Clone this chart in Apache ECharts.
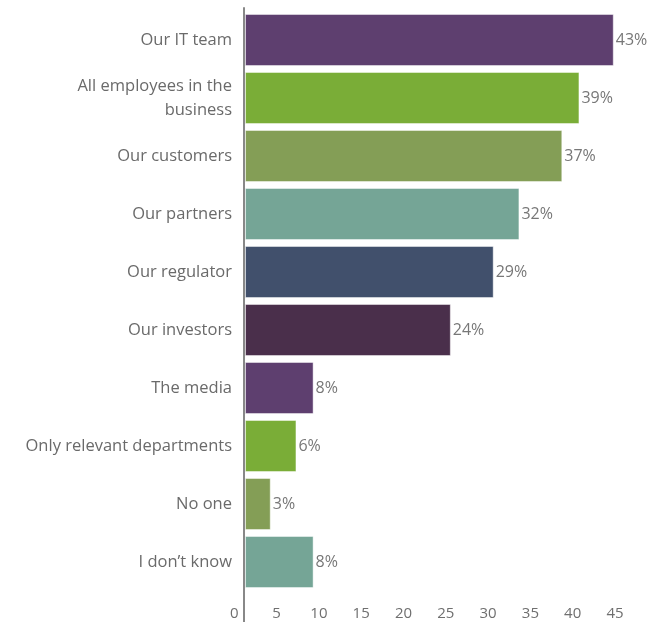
<!DOCTYPE html>
<html>
<head>
<meta charset="utf-8">
<script src="https://cdn.jsdelivr.net/npm/echarts@6/dist/echarts.min.js"></script>
<style>html,body{margin:0;padding:0;background:#fff}#c{width:650px;height:622px}</style>
</head>
<body>
<div id="c"></div>
<script>
var categories = ['Our IT team', 'All employees in the\nbusiness', 'Our customers', 'Our partners', 'Our regulator', 'Our investors', 'The media', 'Only relevant departments', 'No one', 'I don\u2019t know'];
var values = [43, 39, 37, 32, 29, 24, 8, 6, 3, 8];
var colors = ['#5e3f6f', '#7aad37', '#849e56', '#75a596', '#41506c', '#4a2f4b', '#5e3f6f', '#7aad37', '#849e56', '#75a596'];
var tickMin = 0, tickMax = 45, tickStep = 5;

var font = 'Open Sans';
var chart = echarts.init(document.getElementById('c'), null, {renderer: 'canvas'});
chart.setOption({
  animation: false,
  textStyle: {fontFamily: font},
  grid: [
    {left: 245, top: 11, height: 580, width: 385.9, containLabel: false},
    {left: 234.3, top: 8, bottom: 0, width: 380.7, containLabel: false}
  ],
  xAxis: [
    {gridIndex: 0, type: 'value', min: tickMin, max: tickMax, show: false},
    {gridIndex: 1, type: 'value', min: tickMin, max: tickMax, interval: tickStep, position: 'bottom', offset: -16,
     axisLine: {show: false}, axisTick: {show: false}, splitLine: {show: false},
     axisLabel: {margin: 0, color: '#6f6f6f', fontSize: 15, fontFamily: font}}
  ],
  yAxis: [
    {gridIndex: 0, type: 'category', data: categories, inverse: true,
     axisLine: {show: false}, axisTick: {show: false}, splitLine: {show: false},
     axisLabel: {margin: 13, color: '#6a6a6a', fontSize: 16.5, lineHeight: 24, fontFamily: font, align: 'right', padding: [3, 0, 0, 0]}},
    {gridIndex: 1, type: 'value', min: 0, max: 1, offset: -9.9,
     axisLine: {show: true, lineStyle: {color: '#888888', width: 2}},
     axisTick: {show: false}, axisLabel: {show: false}, splitLine: {show: false}}
  ],
  series: [{
    type: 'bar',
    xAxisIndex: 0, yAxisIndex: 0,
    data: values.map(function (v, i) { return {value: v, itemStyle: {color: colors[i]}}; }),
    barWidth: 52,
    itemStyle: {borderColor: 'rgba(255,255,255,0.45)', borderWidth: 1},
    label: {show: true, position: 'right', distance: 2, formatter: '{c}%', color: '#777777', fontSize: 16, fontFamily: font}
  }]
});
</script>
</body>
</html>
